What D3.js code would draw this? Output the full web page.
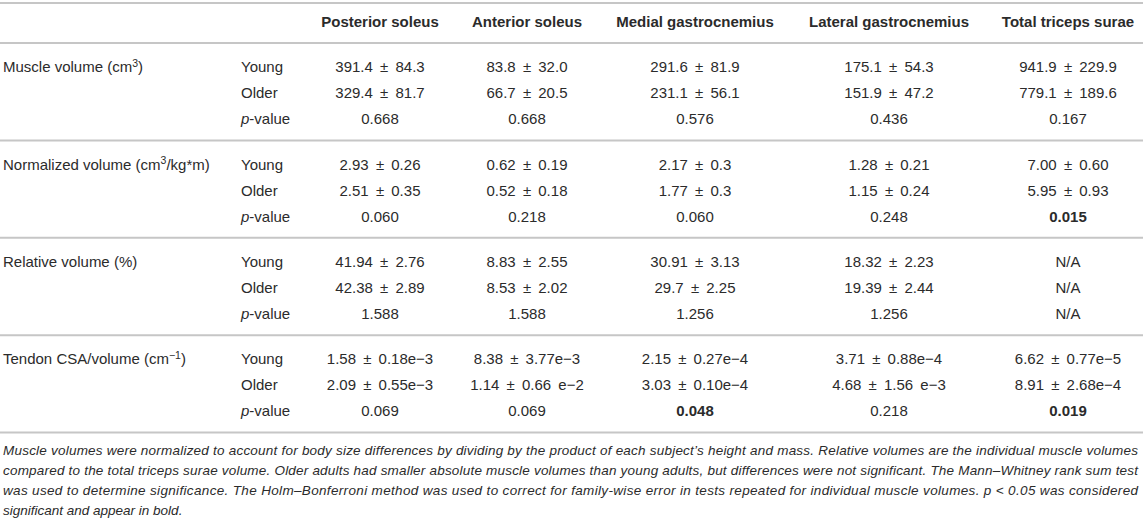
<!DOCTYPE html>
<html lang="en">
<head>
    <meta charset="UTF-8"/>
    <title>Triceps surae muscle volumes</title>
    <script src="https://d3js.org/d3.v7.min.js"></script>
    <style>
        html, body {
            margin: 0;
            padding: 0;
            background: #fff;
        }
        svg {
            display: block;
            font-family: "Liberation Sans", Arial, Helvetica, sans-serif;
        }
    </style>
</head>
<body>
    <div id="chart"></div>
    <script>
        // column headers and row labels (^...^ marks a superscript)
        var columns = ["Posterior soleus", "Anterior soleus", "Medial gastrocnemius",
                       "Lateral gastrocnemius", "Total triceps surae"];
        var measures = ["Muscle volume (cm^3^)", "Normalized volume (cm^3^/kg*m)",
                        "Relative volume (%)", "Tendon CSA/volume (cm^\u22121^)"];
        var groups = ["Young", "Older", "p-value"];

        // one array per measure: rows Young, Older, p-value
        var muscleVolume = [
            ["391.4 ± 84.3", "83.8 ± 32.0", "291.6 ± 81.9", "175.1 ± 54.3", "941.9 ± 229.9"],
            ["329.4 ± 81.7", "66.7 ± 20.5", "231.1 ± 56.1", "151.9 ± 47.2", "779.1 ± 189.6"],
            ["0.668", "0.668", "0.576", "0.436", "0.167"]
        ];
        var normalizedVolume = [
            ["2.93 ± 0.26", "0.62 ± 0.19", "2.17 ± 0.3", "1.28 ± 0.21", "7.00 ± 0.60"],
            ["2.51 ± 0.35", "0.52 ± 0.18", "1.77 ± 0.3", "1.15 ± 0.24", "5.95 ± 0.93"],
            ["0.060", "0.218", "0.060", "0.248", "0.015"]
        ];
        var relativeVolume = [
            ["41.94 ± 2.76", "8.83 ± 2.55", "30.91 ± 3.13", "18.32 ± 2.23", "N/A"],
            ["42.38 ± 2.89", "8.53 ± 2.02", "29.7 ± 2.25", "19.39 ± 2.44", "N/A"],
            ["1.588", "1.588", "1.256", "1.256", "N/A"]
        ];
        var tendonRatio = [
            ["1.58 ± 0.18e\u22123", "8.38 ± 3.77e\u22123", "2.15 ± 0.27e\u22124", "3.71 ± 0.88e\u22124", "6.62 ± 0.77e\u22125"],
            ["2.09 ± 0.55e\u22123", "1.14 ± 0.66 e\u22122", "3.03 ± 0.10e\u22124", "4.68 ± 1.56 e\u22123", "8.91 ± 2.68e\u22124"],
            ["0.069", "0.069", "0.048", "0.218", "0.019"]
        ];
        var tableValues = [muscleVolume, normalizedVolume, relativeVolume, tendonRatio];

        var alpha = 0.05; // p below this is printed bold

        var footnote = [
            "Muscle volumes were normalized to account for body size differences by dividing by the product of each subject\u2019s height and mass. Relative volumes are the individual muscle volumes",
            "compared to the total triceps surae volume. Older adults had smaller absolute muscle volumes than young adults, but differences were not significant. The Mann\u2013Whitney rank sum test",
            "was used to determine significance. The Holm\u2013Bonferroni method was used to correct for family-wise error in tests repeated for individual muscle volumes. p < 0.05 was considered",
            "significant and appear in bold."
        ];

        var w = 1143;
        var h = 520;
        var textColor = "#2b2b2b";
        var ruleColor = "#c6c6c6";

        var svg = d3.select("#chart")
                    .append("svg")
                    .attr("width", w)
                    .attr("height", h);

        // layout scales
        var xCol = d3.scaleOrdinal()
                     .domain(columns)
                     .range([380, 527, 695, 889, 1068]);
        var ySection = d3.scaleBand()
                         .domain(measures)
                         .range([43, 432.5]);
        var yRow = d3.scalePoint()
                     .domain(groups)
                     .range([24, 76]);

        var labelX = 3;
        var groupX = 241;

        // writes text with ^sup^ parts into a text element
        function richText(sel, str, size) {
            var parts = str.split("^");
            parts.forEach(function(p, i) {
                if (p === "") return;
                var t = sel.append("tspan").text(p);
                if (i % 2 === 1) {
                    t.attr("font-size", size * 0.7).attr("dy", -size * 0.38);
                } else if (i > 0) {
                    t.attr("dy", size * 0.38);
                }
            });
        }

        // horizontal rules
        var rules = [3].concat(measures.map(function(m) { return ySection(m); }))
                       .concat([ySection.range()[1]]);
        svg.selectAll("line.rule")
            .data(rules)
            .enter()
            .append("line")
            .attr("class", "rule")
            .attr("x1", 0)
            .attr("x2", w)
            .attr("y1", function(d) { return d; })
            .attr("y2", function(d) { return d; })
            .attr("stroke", ruleColor)
            .attr("stroke-width", 2);

        // header
        svg.selectAll("text.head")
            .data(columns)
            .enter()
            .append("text")
            .attr("class", "head")
            .attr("x", function(d) { return xCol(d); })
            .attr("y", 22)
            .attr("dy", "0.35em")
            .attr("text-anchor", "middle")
            .attr("font-size", 15)
            .attr("font-weight", "bold")
            .attr("fill", textColor)
            .text(function(d) { return d; });

        // sections
        var section = svg.selectAll("g.section")
            .data(measures)
            .enter()
            .append("g")
            .attr("class", "section")
            .attr("transform", function(d) { return "translate(0," + ySection(d) + ")"; });

        section.append("text")
            .attr("x", labelX)
            .attr("y", yRow(groups[0]))
            .attr("dy", "0.35em")
            .attr("font-size", 15)
            .attr("fill", textColor)
            .each(function(d) { richText(d3.select(this), d, 15); });

        section.each(function(m, si) {
            var g = d3.select(this);

            // group labels
            groups.forEach(function(gr) {
                var t = g.append("text")
                    .attr("x", groupX)
                    .attr("y", yRow(gr))
                    .attr("dy", "0.35em")
                    .attr("font-size", 15)
                    .attr("fill", textColor);
                if (gr.indexOf("p-") === 0) {
                    t.append("tspan").attr("font-style", "italic").text("p");
                    t.append("tspan").text(gr.slice(1));
                } else {
                    t.text(gr);
                }
            });

            // value cells
            tableValues[si].forEach(function(row, ri) {
                g.selectAll("text.v" + ri)
                    .data(row)
                    .enter()
                    .append("text")
                    .attr("class", "v" + ri)
                    .attr("x", function(d, ci) { return xCol(columns[ci]); })
                    .attr("y", yRow(groups[ri]))
                    .attr("dy", "0.35em")
                    .attr("text-anchor", "middle")
                    .attr("font-size", 15)
                    .attr("word-spacing", 3)
                    .attr("fill", textColor)
                    .attr("font-weight", function(d) {
                        var p = parseFloat(d);
                        return (groups[ri] === "p-value" && p < alpha) ? "bold" : "normal";
                    })
                    .text(function(d) { return d; });
            });
        });

        // footnote, justified like the source
        svg.selectAll("text.note")
            .data(footnote)
            .enter()
            .append("text")
            .attr("class", "note")
            .attr("x", labelX)
            .attr("y", function(d, i) { return 450 + i * 20; })
            .attr("dy", "0.35em")
            .attr("font-size", 13.5)
            .attr("font-style", "italic")
            .attr("fill", textColor)
            .attr("textLength", function(d, i) { return i < footnote.length - 1 ? 1135 : null; })
            .attr("lengthAdjust", "spacing")
            .text(function(d) { return d; });
    </script>
</body>
</html>
